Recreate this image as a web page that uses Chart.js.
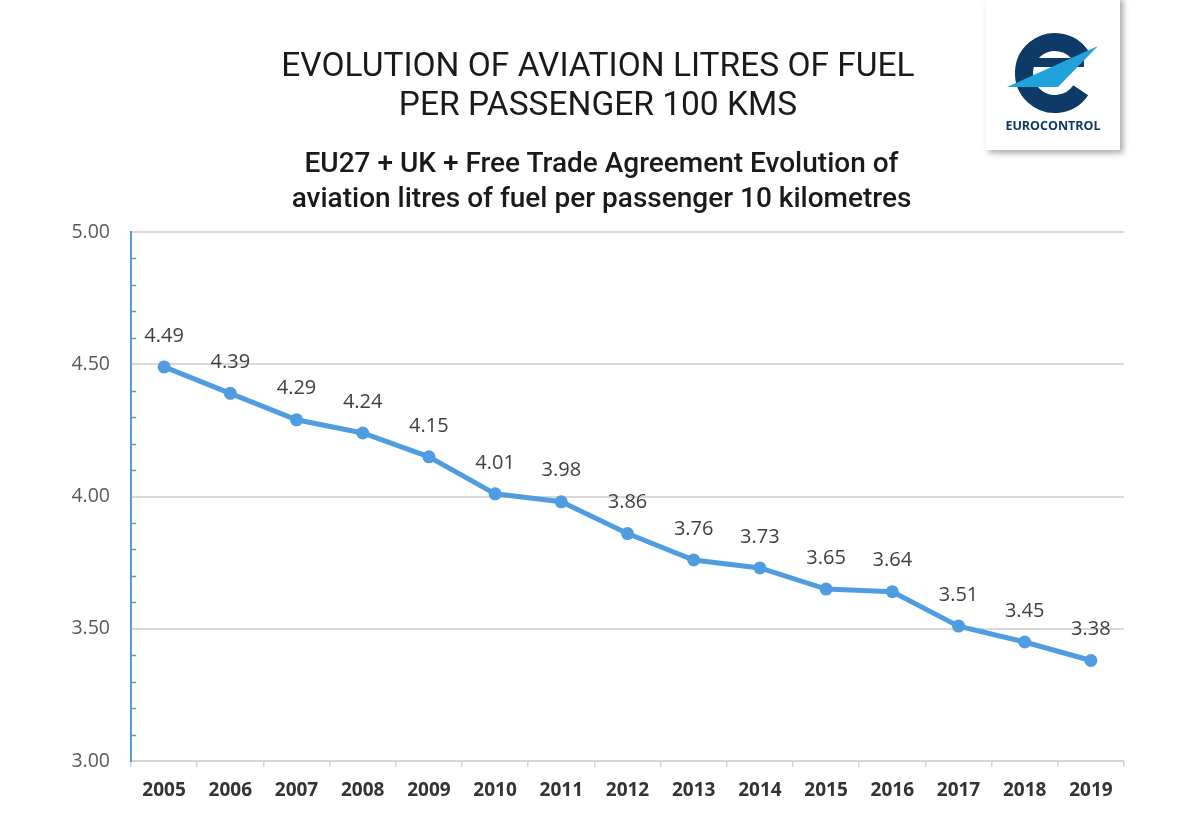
<!DOCTYPE html>
<html>
<head>
<meta charset="utf-8">
<script src="https://cdn.jsdelivr.net/npm/chart.js@4"></script>
<style>
	body { margin: 0; background: #fff; }
	.page { position: relative; width: 1200px; height: 825px; overflow: hidden; }
	#chart { position: absolute; left: 0; top: 0; }
	.title {
		position: absolute; left: 0; top: 45px; width: 1196px; text-align: center;
		font-family: Roboto, sans-serif; font-size: 33.5px; line-height: 39px; color: #1a1a1a;
	}
	.subtitle {
		position: absolute; left: 0; top: 145px; width: 1203px; text-align: center;
		font-family: Roboto, sans-serif; font-weight: 500; font-size: 28px; line-height: 35px; color: #1a1a1a;
	}
	.logo {
		position: absolute; left: 986px; top: -4px; width: 134px; height: 154px;
		background: #fff; box-shadow: 3px 3px 6px rgba(0,0,0,0.35);
	}
	.logo-text {
		position: absolute; left: 0; top: 121px; width: 134px; text-align: center;
		font-family: "Open Sans", sans-serif; font-weight: 700; font-size: 12.5px; color: #0d3a66;
	}
</style>
</head>
<body>
<div class="page">
	<canvas id="chart" width="1200" height="825"></canvas>
	<div class="title">EVOLUTION OF AVIATION LITRES OF FUEL<br>PER PASSENGER 100 KMS</div>
	<div class="subtitle">EU27 + UK + Free Trade Agreement Evolution of<br>aviation litres of fuel per passenger 10 kilometres</div>
	<div class="logo">
		<svg width="134" height="120" viewBox="0 0 134 120">
			<path d="M 95.8 61.5 A 31 31 0 1 0 94.7 94.3" fill="none" stroke="#0d3a66" stroke-width="18"/>
			<rect x="46" y="62" width="52" height="9" fill="#0d3a66"/>
			<polygon points="21,91 112,50 72,91" fill="#1fa3da"/>
		</svg>
		<div class="logo-text">EUROCONTROL</div>
	</div>
</div>
<script>
const years = ['2005', '2006', '2007', '2008', '2009', '2010', '2011', '2012', '2013', '2014', '2015', '2016', '2017', '2018', '2019'];
const fuelValues = [4.49, 4.39, 4.29, 4.24, 4.15, 4.01, 3.98, 3.86, 3.76, 3.73, 3.65, 3.64, 3.51, 3.45, 3.38];
const yMin = 3.0;
const yMax = 5.0;
const yStep = 0.5;
const minorStep = 0.1;

const lineColor = '#4f9de0';

// value labels above each point
const pointLabels = {
	id: 'pointLabels',
	afterDatasetsDraw(chart) {
		const { ctx } = chart;
		const meta = chart.getDatasetMeta(0);
		ctx.save();
		ctx.font = '20px "Open Sans", sans-serif';
		ctx.fillStyle = '#404040';
		ctx.textAlign = 'center';
		ctx.textBaseline = 'middle';
		meta.data.forEach((pt, i) => {
			ctx.fillText(fuelValues[i].toFixed(2), pt.x, pt.y - 31);
		});
		ctx.restore();
	},
};

// small blue minor ticks on the y axis
const minorTicks = {
	id: 'minorTicks',
	afterDraw(chart) {
		const { ctx } = chart;
		const y = chart.scales.y;
		const left = chart.chartArea.left;
		ctx.save();
		ctx.strokeStyle = '#5b9bd5';
		ctx.lineWidth = 1.5;
		const n = Math.round((yMax - yMin) / minorStep);
		for (let i = 1; i < n; i++) {
			if (i % 5 === 0) continue;
			const py = Math.round(y.getPixelForValue(yMin + i * minorStep)) + 0.5;
			ctx.beginPath();
			ctx.moveTo(left, py);
			ctx.lineTo(left + 5, py);
			ctx.stroke();
		}
		ctx.restore();
	},
};

new Chart(document.getElementById('chart'), {
	type: 'line',
	data: {
		labels: years,
		datasets: [
			{
				data: fuelValues,
				borderColor: lineColor,
				backgroundColor: lineColor,
				borderWidth: 5,
				pointRadius: 6.5,
				pointBackgroundColor: lineColor,
				pointBorderWidth: 0,
				tension: 0,
			},
		],
	},
	options: {
		responsive: false,
		animation: false,
		layout: { padding: { top: 232, right: 76, left: 0, bottom: 0 } },
		plugins: {
			legend: { display: false },
			tooltip: { enabled: false },
		},
		scales: {
			x: {
				offset: true,
				grid: {
					offset: true,
					drawOnChartArea: false,
					drawTicks: true,
					tickLength: 6,
					color: '#d4d4d4',
					lineWidth: 1.5,
				},
				border: { color: '#d4d4d4', width: 2 },
				ticks: {
					padding: 12,
					color: '#333',
					font: { family: '"Open Sans", sans-serif', size: 19, weight: 'bold' },
				},
				afterFit(scale) { scale.height = 64; },
			},
			y: {
				min: yMin,
				max: yMax,
				ticks: {
					stepSize: yStep,
					padding: 21,
					color: '#595959',
					font: { family: '"Open Sans", sans-serif', size: 19.5 },
					callback: (v) => Number(v).toFixed(2),
				},
				grid: { color: '#d9d9d9', lineWidth: 2, drawTicks: false },
				border: { color: '#5b9bd5', width: 2 },
				afterFit(scale) { scale.width = 131; },
			},
		},
	},
	plugins: [pointLabels, minorTicks],
});
</script>
</body>
</html>
